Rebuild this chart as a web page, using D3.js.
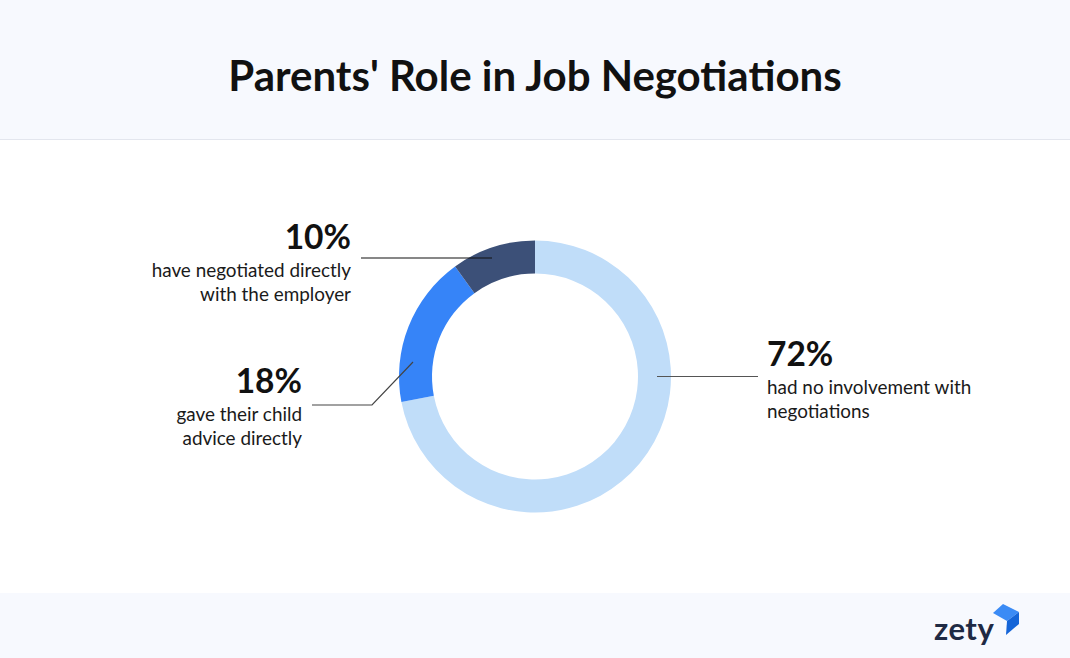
<!DOCTYPE html>
<html><head><meta charset="utf-8">
<script src="https://cdn.jsdelivr.net/npm/d3@7"></script>
<style>body{margin:0;background:#fff}svg{display:block}text{font-family:Lato,sans-serif}</style>
</head><body>
<svg id="c" width="1070" height="658"></svg>
<script>
const categories = ["had no involvement with negotiations","gave their child advice directly","have negotiated directly with the employer"];
const values = [72, 18, 10];
const pctLabels = ["72%","18%","10%"];
const descLines = [["had no involvement with","negotiations"],["gave their child","advice directly"],["have negotiated directly","with the employer"]];
const colors = ["#C0DDF9","#3684F8","#3C5078"];

const svg = d3.select("#c");
svg.append("rect").attr("x",0).attr("y",0).attr("width",1070).attr("height",139).attr("fill","#F7F9FE");
svg.append("line").attr("x1",0).attr("x2",1070).attr("y1",139.5).attr("y2",139.5).attr("stroke","#E3E6EE");
svg.append("rect").attr("x",0).attr("y",593).attr("width",1070).attr("height",65).attr("fill","#F7F9FE");
svg.append("text").attr("x",535).attr("y",91).attr("text-anchor","middle").attr("font-size",42).attr("font-weight",700).attr("fill","#111").text("Parents' Role in Job Negotiations");

const cx=535, cy=376.5, R=136, r=103;
const pie = d3.pie().sort(null).value(d=>d)(values);
const arc = d3.arc().innerRadius(r).outerRadius(R);
const g = svg.append("g").attr("transform",`translate(${cx},${cy})`);
g.selectAll("path").data(pie).join("path").attr("d",arc).attr("fill",(d,i)=>colors[i]);

const lines = svg.append("g").attr("fill","none");
lines.append("line").attr("x1",cx+r+19).attr("y1",cy).attr("x2",758).attr("y2",cy).attr("stroke","#555").attr("stroke-width",1.2);
lines.append("polyline").attr("points",[[312,405],[372,405],[413,362]].map(p=>p.join(",")).join(" ")).attr("stroke","#444").attr("stroke-width",1.2);
lines.append("line").attr("x1",361).attr("y1",258).attr("x2",492).attr("y2",258).attr("stroke","#111").attr("stroke-width",1.2);

function label(x,anchor,y0,i){
  svg.append("text").attr("x",x).attr("y",y0).attr("text-anchor",anchor).attr("font-size",33.5).attr("font-weight",700).attr("fill","#111").text(pctLabels[i]);
  descLines[i].forEach((t,k)=>svg.append("text").attr("x",x).attr("y",y0+28+k*23.5).attr("text-anchor",anchor).attr("font-size",18.9).attr("fill","#1a1a1a").text(t));
}
label(767,"start",366,0);
label(302,"end",393,1);
label(351,"end",249,2);

// logo
svg.append("text").attr("x",934).attr("y",640).attr("font-size",31).attr("font-weight",700).attr("fill","#1F2A44").attr("letter-spacing",0.5).text("zety");
const lg = svg.append("g");
lg.append("path").attr("d","M993,613 L1003,604 L1019,612 L1007,621 Z").attr("fill","#3B8BF5");
lg.append("path").attr("d","M1007,621 L1019,612 L1019,624 L1006,635 Z").attr("fill","#1565D8");
</script>
</body></html>
